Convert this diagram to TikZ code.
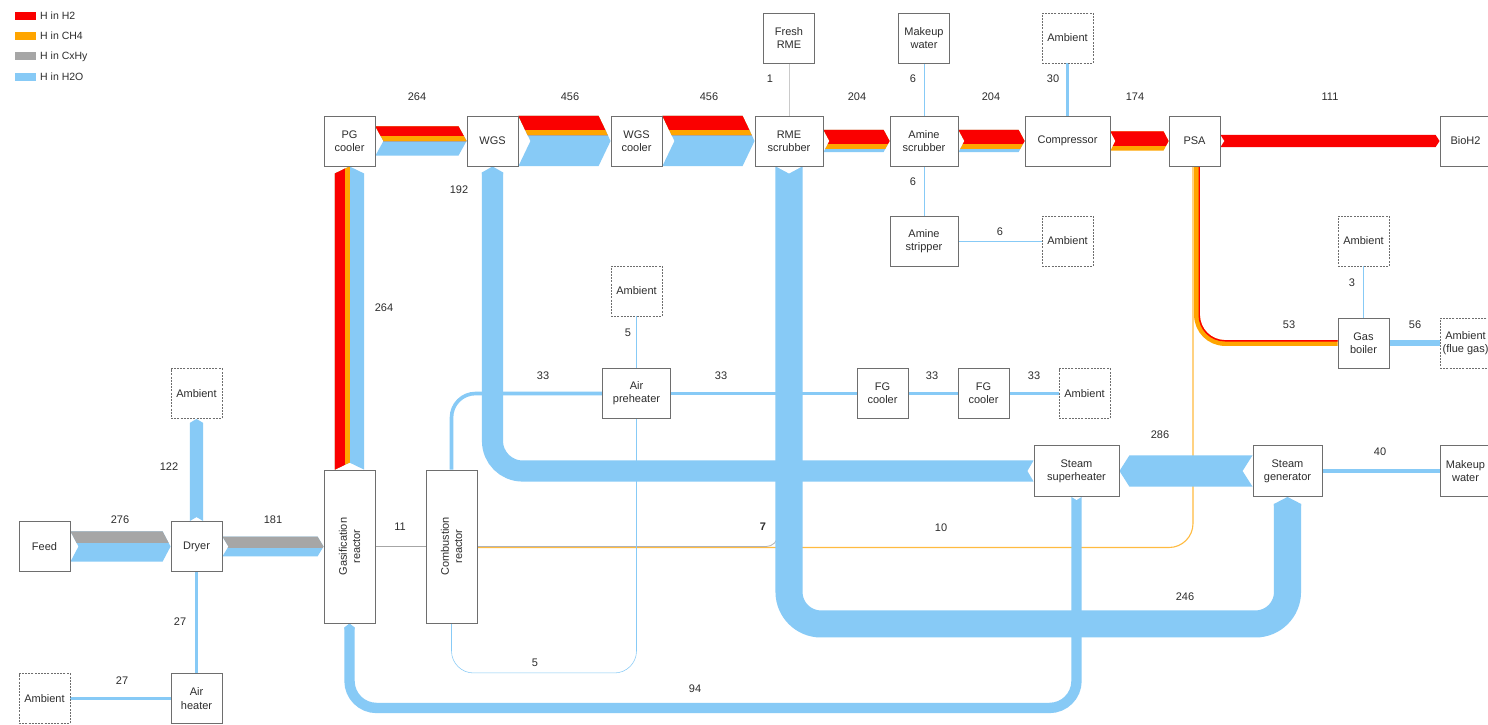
\documentclass[tikz,border=0pt]{standalone}
\usepackage{fontspec}
\setmainfont{Liberation Sans}
\usetikzlibrary{calc}

\definecolor{hH}{RGB}{250,0,0}
\definecolor{hM}{RGB}{255,165,0}
\definecolor{hC}{RGB}{166,166,166}
\definecolor{hW}{RGB}{135,202,246}
\definecolor{boxline}{RGB}{110,110,110}
\definecolor{ink}{RGB}{45,45,45}

\pgfdeclarelayer{flows}
\pgfsetlayers{flows,main}

% chevron-shaped clip regions for straight Sankey bands
% #1 tail anchor, #2 head anchor, #3 half width, #4 chevron depth
\newcommand\chevright[4]{\clip ($(#1)+(0,-#3)$) -- ($(#2)+(-#4,-#3)$) -- (#2) -- ($(#2)+(-#4,#3)$) -- ($(#1)+(0,#3)$) -- ($(#1)+(#4,0)$) -- cycle;}
\newcommand\chevleft[4]{\clip ($(#1)+(0,-#3)$) -- ($(#2)+(#4,-#3)$) -- (#2) -- ($(#2)+(#4,#3)$) -- ($(#1)+(0,#3)$) -- ($(#1)+(-#4,0)$) -- cycle;}
\newcommand\chevup[4]{\clip ($(#1)+(-#3,0)$) -- ($(#2)+(-#3,#4)$) -- (#2) -- ($(#2)+(#3,#4)$) -- ($(#1)+(#3,0)$) -- ($(#1)+(0,-#4)$) -- cycle;}
% stacked colour layers inside a band: colour, tail, head, lower edge offset
\newcommand\hlayer[4]{\fill[#1] ($(#2)+(-5,-40)$) rectangle ($(#3)+(5,#4)$);}
\newcommand\vlayer[4]{\fill[#1] ($(#2)+(-40,5)$) rectangle ($(#3)+(#4,-5)$);}
% arrow head entering a box from below, and tail notches of bent bands
\newcommand\headup[3]{\fill[hW] ($(#1)+(-#2,#3+2)$) -- ($(#1)+(-#2,#3)$) -- (#1) -- ($(#1)+(#2,#3)$) -- ($(#1)+(#2,#3+2)$) -- cycle;}
\newcommand\notchdown[3]{\fill[white] ($(#1)+(-#2-0.5,-0.5)$) -- ($(#1)+(0,#3)$) -- ($(#1)+(#2+0.5,-0.5)$) -- cycle;}
\newcommand\notchleft[3]{\fill[white] ($(#1)+(0.5,-#2-0.5)$) -- ($(#1)+(-#3,0)$) -- ($(#1)+(0.5,#2+0.5)$) -- cycle;}

\begin{document}
\begin{tikzpicture}[x=1pt,y=-1pt,
  unit/.style={draw=boxline, line width=0.9pt, fill=white, minimum width=51pt, minimum height=50pt,
    inner sep=1pt, align=center, text=ink, font=\fontsize{11}{13.3}\selectfont},
  wide/.style={minimum width=68pt},
  wider/.style={minimum width=85pt},
  tall/.style={minimum height=153pt},
  amb/.style={unit, dash pattern=on 2pt off 1.2pt},
  boxtext/.style={text=ink, align=center, inner sep=0pt, font=\fontsize{11}{13.3}\selectfont},
  val/.style={text=ink, font=\fontsize{11}{12}\selectfont, inner sep=0pt},
  legtext/.style={text=ink, font=\fontsize{10.5}{12}\selectfont, inner sep=0pt, anchor=west},
  swatch/.style={minimum width=21pt, minimum height=8pt, inner sep=0pt},
  ]
\useasboundingbox (0,0) rectangle (1488,725);
\clip (0,0) rectangle (1488,725);

% ---------- legend ----------
\node[swatch, fill=hH] (sw1) at (25.5,16) {};
\node[swatch, fill=hM] (sw2) at (25.5,36) {};
\node[swatch, fill=hC] (sw3) at (25.5,56.5) {};
\node[swatch, fill=hW] (sw4) at (25.5,77) {};
\node[legtext] (lg1) at (40,16) {H in H2};
\node[legtext] (lg2) at (40,36) {H in CH4};
\node[legtext] (lg3) at (40,56.5) {H in CxHy};
\node[legtext] (lg4) at (40,77) {H in H2O};

% ---------- process units ----------
\node[unit] (pgc) at (349.5,141) {PG\\cooler};
\node[unit] (wgs) at (492.5,141) {WGS};
\node[unit] (wgsc) at (636.5,141) {WGS\\cooler};
\node[unit, wide] (rme) at (789,141) {RME\\scrubber};
\node[unit, wide] (amsc) at (924,141) {Amine\\scrubber};
\node[unit, wider] (comp) at (1067.5,141) {Compressor};
\node[unit] (psa) at (1194.5,141) {PSA};
\node[unit] (bioh2) at (1465.5,141) {BioH2};
\node[unit] (frme) at (789,38) {Fresh\\RME};
\node[unit] (mkw1) at (924,38) {Makeup\\water};
\node[amb] (amb1) at (1067.5,38) {Ambient};
\node[unit, wide] (amst) at (924,241) {Amine\\stripper};
\node[amb] (amb2) at (1067.5,241) {Ambient};
\node[amb] (amb3) at (1363.5,241) {Ambient};
\node[unit] (gasb) at (1363.5,343) {Gas\\boiler};
\node[amb] (ambfg) at (1465.5,343) {Ambient\\(flue gas)};
\node[amb] (amb4) at (636.5,291) {Ambient};
\node[unit, wide] (airph) at (636.5,393.5) {Air\\preheater};
\node[unit] (fgc1) at (882.5,393.5) {FG\\cooler};
\node[unit] (fgc2) at (983.5,393.5) {FG\\cooler};
\node[amb] (amb5) at (1084.5,393.5) {Ambient};
\node[unit, wider, minimum height=51pt] (ssh) at (1076.5,471) {Steam\\superheater};
\node[unit, minimum width=69pt, minimum height=51pt] (sgen) at (1287.5,471) {Steam\\generator};
\node[unit, minimum height=51pt] (mkw2) at (1465.5,471) {Makeup\\water};
\node[amb] (amb6) at (196.5,393.5) {Ambient};
\node[unit] (feed) at (44.5,546.5) {Feed};
\node[unit] (dryer) at (196.5,546.5) {Dryer};
\node[unit, tall] (gasr) at (349.5,546.5) {};
\node[boxtext, rotate=90] (gasrt) at (gasr) {Gasification\\reactor};
\node[unit, tall] (comb) at (451.5,546.5) {};
\node[boxtext, rotate=90] (combt) at (comb) {Combustion\\reactor};
\node[amb] (amb7) at (44.5,698.5) {Ambient};
\node[unit] (airh) at (196.5,698.5) {Air\\heater};

% ---------- flows ----------
\begin{pgfonlayer}{flows}
\fill[white] (0,0) rectangle (1488,725);

% thin streams
\draw[hC!60, line width=0.5pt] (frme.south) -- (rme.north);
\draw[hW, line width=0.66pt] (mkw1.south) -- (amsc.north);
\draw[hW, line width=0.66pt] (amsc.south) -- (amst.north);
\draw[hW, line width=0.66pt] (amst.east) -- (amb2.west);
\draw[hW, line width=3.3pt] (comp.north) -- (amb1.south);
\draw[hW, line width=0.4pt] (amb3.south) -- (gasb.north);
\draw[hW, line width=6.16pt] (gasb.east) -- (ambfg.west);
\draw[hW, line width=4.4pt] (sgen.east) -- (mkw2.west);
\draw[hW, line width=2.97pt] (airh.north) -- (dryer.south);
\draw[hW, line width=2.97pt] (amb7.east) -- (airh.west);
\draw[hC, line width=1.21pt] (gasr.east) -- (comb.west);
\draw[hM!75, line width=1.1pt, rounded corners=24pt] ($(psa.south)+(-1.5,0)$) |- ($(comb.east)+(0,1)$);
\draw[hC!85, line width=0.8pt, rounded corners=12pt] ($(rme.south)+(-11,0)$) |- ($(comb.east)+(0,0.05)$);
\draw[hW, line width=3.63pt, rounded corners=24pt] (comb.north) |- (airph.west);
\draw[hW, line width=3.63pt] (airph.east) -- (fgc1.west);
\draw[hW, line width=3.63pt] (fgc1.east) -- (fgc2.west);
\draw[hW, line width=3.63pt] (fgc2.east) -- (amb5.west);
\draw[hW, line width=0.55pt] (amb4.south) -- (airph.north);
\draw[hW, line width=0.55pt, rounded corners=22pt] (airph.south) -- ++(0,254) -| (comb.south);
\draw[hM, line width=5.83pt, rounded corners=28pt] ($(psa.south)+(2.5,0)$) |- (gasb.west);
\draw[hH, line width=1.43pt, rounded corners=25.8pt] ($(psa.south)+(4.7,0)$) |- ($(gasb.west)+(0,-2.2)$);

% product gas line
\begin{scope}\chevright{pgc.east}{wgs.west}{14.52}{8}
\hlayer{hW}{pgc.east}{wgs.west}{40}
\hlayer{hC}{pgc.east}{wgs.west}{0.88}
\hlayer{hM}{pgc.east}{wgs.west}{0.22}
\hlayer{hH}{pgc.east}{wgs.west}{-4.84}
\end{scope}
\begin{scope}\chevright{wgs.east}{wgsc.west}{25.08}{12}
\hlayer{hW}{wgs.east}{wgsc.west}{40}
\hlayer{hC}{wgs.east}{wgsc.west}{-5.28}
\hlayer{hM}{wgs.east}{wgsc.west}{-5.94}
\hlayer{hH}{wgs.east}{wgsc.west}{-11.0}
\end{scope}
\begin{scope}\chevright{wgsc.east}{rme.west}{25.08}{12}
\hlayer{hW}{wgsc.east}{rme.west}{40}
\hlayer{hC}{wgsc.east}{rme.west}{-5.28}
\hlayer{hM}{wgsc.east}{rme.west}{-5.94}
\hlayer{hH}{wgsc.east}{rme.west}{-11.0}
\end{scope}
\begin{scope}\chevright{rme.east}{amsc.west}{11.22}{6}
\hlayer{hW}{rme.east}{amsc.west}{40}
\hlayer{hM}{rme.east}{amsc.west}{7.92}
\hlayer{hH}{rme.east}{amsc.west}{2.86}
\end{scope}
\begin{scope}\chevright{amsc.east}{comp.west}{11.22}{6}
\hlayer{hW}{amsc.east}{comp.west}{40}
\hlayer{hM}{amsc.east}{comp.west}{7.92}
\hlayer{hH}{amsc.east}{comp.west}{2.86}
\end{scope}
\begin{scope}\chevright{comp.east}{psa.west}{9.57}{5}
\hlayer{hM}{comp.east}{psa.west}{40}
\hlayer{hH}{comp.east}{psa.west}{4.51}
\end{scope}
\begin{scope}\chevright{psa.east}{bioh2.west}{6.1}{4}
\hlayer{hH}{psa.east}{bioh2.west}{40}
\end{scope}
\begin{scope}\chevup{gasr.north}{pgc.south}{14.52}{7}
\vlayer{hW}{gasr.north}{pgc.south}{40}
\vlayer{hC}{gasr.north}{pgc.south}{0.88}
\vlayer{hM}{gasr.north}{pgc.south}{0.22}
\vlayer{hH}{gasr.north}{pgc.south}{-4.84}
\end{scope}

% feed preparation
\begin{scope}\chevright{feed.east}{dryer.west}{15.18}{8}
\hlayer{hW}{feed.east}{dryer.west}{40}
\hlayer{hC}{feed.east}{dryer.west}{-3.63}
\end{scope}
\begin{scope}\chevright{dryer.east}{gasr.west}{9.96}{6}
\hlayer{hW}{dryer.east}{gasr.west}{40}
\hlayer{hC}{dryer.east}{gasr.west}{1.59}
\end{scope}
\begin{scope}\chevup{dryer.north}{amb6.south}{6.71}{4}
\fill[hW] (0,0) rectangle (1488,725);
\end{scope}

% steam cycle
\begin{scope}\chevleft{sgen.west}{ssh.east}{15.73}{10}
\fill[hW] (0,0) rectangle (1488,725);
\end{scope}
\draw[hW, line width=21.12pt, rounded corners=30pt] (ssh.west) -- (wgs.south |- ssh.west) -- ($(wgs.south)+(0,6)$);
\headup{wgs.south}{10.56}{6}
\notchleft{ssh.west}{10.56}{6}
\draw[hW, line width=27.06pt, rounded corners=32pt] (rme.south) -- ++(0,457.5) -| ($(sgen.south)+(0,7)$);
\headup{sgen.south}{13.53}{7}
\notchdown{rme.south}{13.53}{7}
\draw[hW, line width=10.34pt, rounded corners=27pt] (ssh.south) -- ++(0,211) -| ($(gasr.south)+(0,4)$);
\headup{gasr.south}{5.17}{4}
\notchdown{ssh.south}{5.17}{3}
\end{pgfonlayer}

% ---------- stream values ----------
\node[val] (v1) at (417,97) {264};
\node[val] (v2) at (570,97) {456};
\node[val] (v3) at (709,97) {456};
\node[val] (v4) at (857,97) {204};
\node[val] (v5) at (991,97) {204};
\node[val] (v6) at (1135,97) {174};
\node[val] (v7) at (1330,97) {111};
\node[val] (v8) at (770,79) {1};
\node[val] (v9) at (913,79) {6};
\node[val] (v10) at (1053,79) {30};
\node[val] (v11) at (459,190) {192};
\node[val] (v12) at (913,182) {6};
\node[val] (v13) at (1000,232) {6};
\node[val] (v14) at (384,308) {264};
\node[val] (v15) at (628,333) {5};
\node[val] (v16) at (1352,283) {3};
\node[val] (v17) at (1289,325) {53};
\node[val] (v18) at (1415,325) {56};
\node[val] (v19) at (543,376) {33};
\node[val] (v20) at (721,376) {33};
\node[val] (v21) at (932,376) {33};
\node[val] (v22) at (1034,376) {33};
\node[val] (v23) at (169,467) {122};
\node[val] (v24) at (1160,435) {286};
\node[val] (v25) at (1380,452) {40};
\node[val] (v26) at (120,520) {276};
\node[val] (v27) at (273,520) {181};
\node[val] (v28) at (400,527) {11};
\node[val, font=\fontsize{11}{12}\selectfont\bfseries] (v29) at (763,527) {7};
\node[val] (v30) at (941,528) {10};
\node[val] (v31) at (1185,597) {246};
\node[val] (v32) at (180,622) {27};
\node[val] (v33) at (122,681) {27};
\node[val] (v34) at (535,663) {5};
\node[val] (v35) at (695,689) {94};
\end{tikzpicture}
\end{document}
